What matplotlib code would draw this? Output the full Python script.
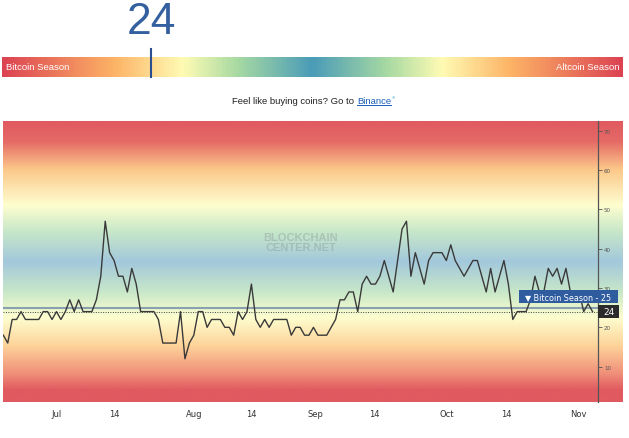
import matplotlib
matplotlib.use("Agg")
import matplotlib.pyplot as plt
import numpy as np
from matplotlib.colors import LinearSegmentedColormap
from matplotlib.patches import Rectangle

# altcoin season index, one value per day
index_values = [
    18, 16, 22, 22, 24, 22, 22, 22, 22, 24,
    24, 22, 24, 22, 24, 27, 24, 27, 24, 24,
    24, 27, 33, 47, 39, 37, 33, 33, 29, 35,
    31, 24, 24, 24, 24, 22, 16, 16, 16, 16,
    24, 12, 16, 18, 24, 24, 20, 22, 22, 22,
    20, 20, 18, 24, 22, 24, 31, 22, 20, 22,
    20, 22, 22, 22, 22, 18, 20, 20, 18, 18,
    20, 18, 18, 18, 20, 22, 27, 27, 29, 29,
    24, 31, 33, 31, 31, 33, 37, 33, 29, 37,
    45, 47, 33, 39, 35, 31, 37, 39, 39, 39,
    37, 41, 37, 35, 33, 35, 37, 37, 33, 29,
    35, 29, 33, 37, 31, 22, 24, 24, 24, 27,
    33, 29, 29, 35, 33, 35, 31, 35, 29, 29,
    29, 24, 26, 24,
]
tick_pos = [12, 25, 43, 56, 70.5, 83.7, 100, 113.5, 129.7]
tick_labels = ["Jul", "14", "Aug", "14", "Sep", "14", "Oct", "14", "Nov"]
y_ticks = [10, 20, 30, 40, 50, 60, 70]
current = 24
bitcoin_season = 25

W, H = 629, 439
fig = plt.figure(figsize=(W / 100, H / 100), dpi=100)
fig.patch.set_facecolor("white")

def fx(px):
    return px / W

def fy(py):
    return 1 - py / H

# ---- top gauge bar ----
bar_cmap = LinearSegmentedColormap.from_list("bar", [
    (0.0, "#dc4452"), (0.18, "#fdb466"), (0.29, "#fffbb4"),
    (0.38, "#a6d9a2"), (0.5, "#4a9bb8"), (0.62, "#a6d9a2"),
    (0.71, "#fffbb4"), (0.82, "#fdb466"), (1.0, "#dc4452")])
bar_ax = fig.add_axes([fx(2), fy(78), fx(621), 20 / H])
bar_ax.imshow(np.linspace(0, 1, 400)[None, :], aspect="auto", cmap=bar_cmap)
bar_ax.set_axis_off()

fig.text(fx(6), fy(68), "Bitcoin Season", color="white", fontsize=6.8,
         family="Liberation Sans", va="center", ha="left")
fig.text(fx(619), fy(68), "Altcoin Season", color="white", fontsize=6.8,
         family="Liberation Sans", va="center", ha="right")

# marker on the bar for the current value (bar runs 0..100)
mx = 2 + 621 * current / 100
fig.add_artist(plt.Line2D([fx(mx), fx(mx)], [fy(50), fy(78)], color="#2b4f8e", lw=1.5))
fig.text(fx(mx), fy(22), str(current), color="#34609f", fontsize=32,
         family="Liberation Sans", ha="center", va="center")

# ---- promo line ----
fig.text(fx(354), fy(101), "Feel like buying coins? Go to", fontsize=6.8,
         family="Liberation Sans", color="#222222", ha="right", va="center")
bt = fig.text(fx(357), fy(101), "Binance", fontsize=6.8, family="Liberation Sans",
              color="#1a5fb4", ha="left", va="center")
fig.text(fx(391.5), fy(99), "*", fontsize=6, family="Liberation Sans",
         color="#5ab4e6", ha="left", va="center")
fig.canvas.draw()
bb = bt.get_window_extent().transformed(fig.transFigure.inverted())
fig.add_artist(plt.Line2D([bb.x0, bb.x1], [bb.y0 - 0.002, bb.y0 - 0.002],
                          color="#1a5fb4", lw=0.7))

# ---- chart background gradient ----
bg_cmap = LinearSegmentedColormap.from_list("bg", [
    (0.0, "#e05a60"), (0.07, "#e56a66"), (0.17, "#fcc88a"), (0.3, "#fefed0"),
    (0.39, "#c8e8c8"), (0.5, "#a3c8dc"), (0.61, "#c8e8c8"), (0.7, "#fefed0"),
    (0.8, "#fdd49a"), (0.9, "#f0907a"), (0.96, "#e05a60"), (1.0, "#e05a60")])
bottom, top = 403, 122
bg_ax = fig.add_axes([fx(3), fy(bottom), fx(620), (bottom - top) / H], zorder=0)
bg_ax.imshow(np.linspace(0, 1, 400)[:, None], aspect="auto", cmap=bg_cmap)
bg_ax.set_axis_off()

ax = fig.add_axes([fx(3), fy(bottom), fx(595.3), (bottom - top) / H], zorder=1)
ax.set_facecolor("none")

x = np.arange(len(index_values))
ax.axhline(bitcoin_season, color="#8aa0b0", lw=1.5, zorder=2)
ax.axhline(current, color="#444444", lw=0.7, ls=(0, (1, 1.5)), zorder=2)
ax.plot(x, index_values, color="#3a3a3a", lw=1.0, zorder=3)

ax.text(0.5, 0.57, "BLOCKCHAIN\nCENTER.NET", transform=ax.transAxes,
        fontsize=8, fontweight="bold", family="Liberation Sans", color="#7f8c8d",
        alpha=0.35, ha="center", va="center", linespacing=0.95)

ax.set_xlim(-0.07, 134.3)
ax.set_ylim(1.0, 72.5)
ax.set_xticks(tick_pos)
ax.set_xticklabels(tick_labels)
ax.tick_params(axis="x", length=0, pad=5, labelsize=6, labelcolor="#333333")
ax.yaxis.tick_right()
ax.set_yticks(y_ticks)
ax.tick_params(axis="y", length=3, width=0.6, color="#555555", pad=1,
               labelsize=4, labelcolor="#555555")
for side in ["top", "left", "bottom"]:
    ax.spines[side].set_visible(False)
ax.spines["right"].set_color("#555555")
ax.spines["right"].set_linewidth(0.9)

# ---- value labels on the right axis ----
fig.add_artist(Rectangle((fx(519), fy(304)), fx(99), 13 / H,
                         facecolor="#2e5c9e", edgecolor="none", zorder=5))
fig.text(fx(568.5), fy(297.5), "\u25bc Bitcoin Season - %d" % bitcoin_season,
         color="white", fontsize=5.8, ha="center", va="center", zorder=6)
fig.add_artist(Rectangle((fx(598), fy(319)), fx(21), 13 / H,
                         facecolor="#2b2b2b", edgecolor="none", zorder=5))
fig.text(fx(608.5), fy(312.5), str(current), color="white", fontsize=6.5,
         ha="center", va="center", zorder=6)

fig.savefig("out.png", dpi=100)
